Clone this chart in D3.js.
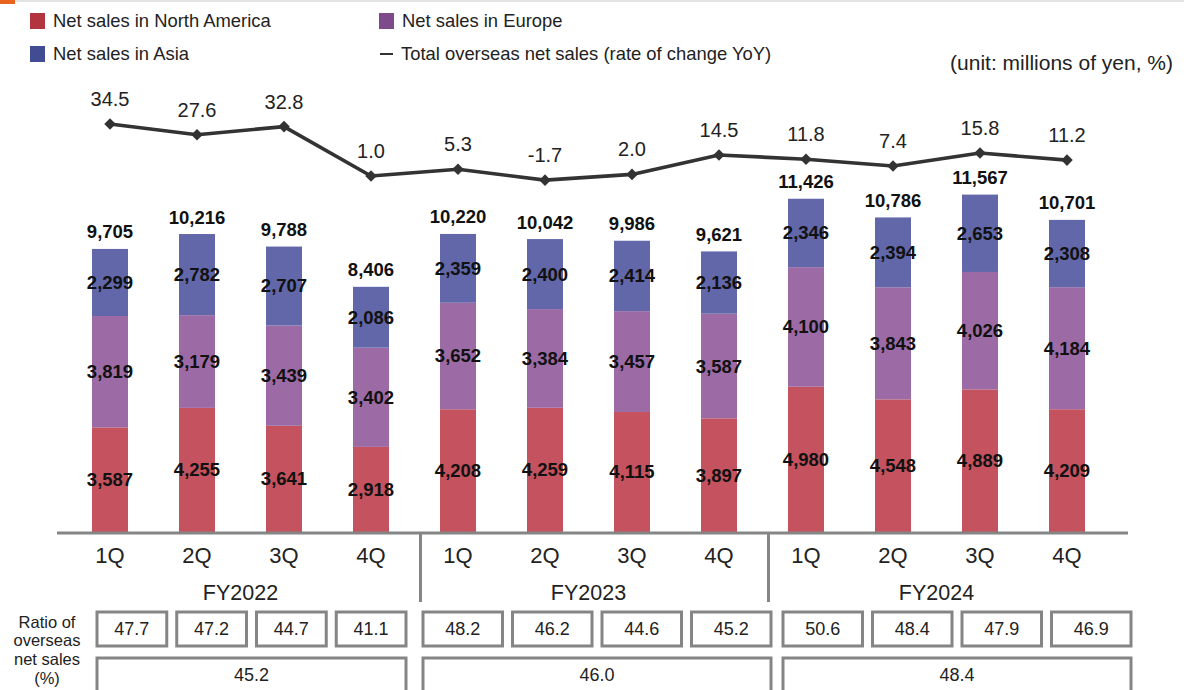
<!DOCTYPE html>
<html>
<head>
<meta charset="utf-8">
<script src="https://cdn.jsdelivr.net/npm/d3@7"></script>
<style>
  html, body { margin: 0; padding: 0; background: #fff; }
  svg { display: block; font-family: "Liberation Sans", Arial, sans-serif; }
</style>
</head>
<body>
<svg id="chart" width="1184" height="690"></svg>
<script>
// Quarterly overseas net sales by region (millions of yen)
const fiscalYears = ["FY2022", "FY2023", "FY2024"];
const quarters = ["1Q", "2Q", "3Q", "4Q"];
const northAmerica = [3587, 4255, 3641, 2918, 4208, 4259, 4115, 3897, 4980, 4548, 4889, 4209];
const europe       = [3819, 3179, 3439, 3402, 3652, 3384, 3457, 3587, 4100, 3843, 4026, 4184];
const asia         = [2299, 2782, 2707, 2086, 2359, 2400, 2414, 2136, 2346, 2394, 2653, 2308];
const totals       = [9705, 10216, 9788, 8406, 10220, 10042, 9986, 9621, 11426, 10786, 11567, 10701];
// Total overseas net sales, rate of change YoY (%)
const yoyChange    = [34.5, 27.6, 32.8, 1.0, 5.3, -1.7, 2.0, 14.5, 11.8, 7.4, 15.8, 11.2];
// Ratio of overseas net sales (%)
const ratioQuarter = [47.7, 47.2, 44.7, 41.1, 48.2, 46.2, 44.6, 45.2, 50.6, 48.4, 47.9, 46.9];
const ratioYear    = [45.2, 46.0, 48.4];

const seriesNames  = ["Net sales in North America", "Net sales in Europe", "Net sales in Asia"];
const barColors    = ["#c4525f", "#9c6ba6", "#6167a9"];
const legendColors = ["#b2343f", "#7d4b8c", "#414c93"];
const lineColor    = "#333333";
const gridGrey     = "#858585";

const svg = d3.select("#chart");

const keys = d3.range(totals.length).map(i => fiscalYears[Math.floor(i / 4)] + "-" + quarters[i % 4]);

const x = d3.scalePoint().domain(keys).range([110, 1067]);
const barWidth = 36;
const baseY = 532;
const y = d3.scaleLinear().domain([0, 12000]).range([baseY, 182]);
const yLine = d3.scaleLinear().domain([0, 35]).range([177.5, 123.2]);

// top rule with accent
svg.append("rect").attr("x", 0).attr("y", 0).attr("width", 1184).attr("height", 2).attr("fill", "#e4e4e4");
svg.append("rect").attr("x", 0).attr("y", 0).attr("width", 15).attr("height", 4).attr("fill", "#e8641e");

// stacked bars
const rows = keys.map((k, i) => ({ key: k, na: northAmerica[i], eu: europe[i], as: asia[i] }));
const stack = d3.stack().keys(["na", "eu", "as"]);
const layers = stack(rows);

const layerG = svg.append("g").selectAll("g").data(layers).join("g")
  .attr("fill", (d, i) => barColors[i]);
layerG.selectAll("rect").data(d => d).join("rect")
  .attr("x", d => x(d.data.key) - barWidth / 2)
  .attr("y", d => y(d[1]))
  .attr("width", barWidth)
  .attr("height", d => y(d[0]) - y(d[1]));

// segment labels
const fmt = d3.format(",");
const labelG = svg.append("g")
  .attr("font-size", 18.5).attr("font-weight", "bold").attr("fill", "#111")
  .attr("text-anchor", "middle");
layers.forEach(layer => {
  layer.forEach(d => {
    labelG.append("text")
      .attr("x", x(d.data.key))
      .attr("y", (y(d[0]) + y(d[1])) / 2)
      .attr("dy", "0.35em")
      .text(fmt(d[1] - d[0]));
  });
});
// total labels
svg.append("g").attr("font-size", 18.5).attr("font-weight", "bold").attr("fill", "#111")
  .attr("text-anchor", "middle")
  .selectAll("text").data(totals).join("text")
  .attr("x", (d, i) => x(keys[i]))
  .attr("y", d => y(d) - 17)
  .attr("dy", "0.35em")
  .text(d => fmt(d));

// YoY line
const line = d3.line().x((d, i) => x(keys[i])).y(d => yLine(d));
svg.append("path").datum(yoyChange)
  .attr("d", line).attr("fill", "none")
  .attr("stroke", lineColor).attr("stroke-width", 3.6).attr("stroke-linejoin", "round");
svg.append("g").selectAll("path").data(yoyChange).join("path")
  .attr("d", d3.symbol(d3.symbolDiamond2, 85))
  .attr("transform", (d, i) => `translate(${x(keys[i])},${yLine(d)})`)
  .attr("fill", lineColor);
svg.append("g").attr("font-size", 20).attr("fill", "#222").attr("text-anchor", "middle")
  .selectAll("text").data(yoyChange).join("text")
  .attr("x", (d, i) => x(keys[i]))
  .attr("y", d => yLine(d) - 25)
  .attr("dy", "0.35em")
  .text(d => d.toFixed(1));

// category axis
svg.append("line").attr("x1", 57).attr("x2", 1128).attr("y1", baseY + 1).attr("y2", baseY + 1)
  .attr("stroke", gridGrey).attr("stroke-width", 3);
svg.append("g").attr("font-size", 22).attr("fill", "#222").attr("text-anchor", "middle")
  .selectAll("text").data(keys).join("text")
  .attr("x", d => x(d)).attr("y", 555).attr("dy", "0.35em")
  .text(d => d.split("-")[1]);
fiscalYears.forEach((fy, g) => {
  const cx = (x(keys[g * 4 + 1]) + x(keys[g * 4 + 2])) / 2;
  svg.append("text").attr("x", cx).attr("y", 592).attr("dy", "0.35em")
    .attr("text-anchor", "middle").attr("font-size", 21.5).attr("fill", "#222").text(fy);
});
// group separators
[3, 7].forEach(i => {
  const sx = (x(keys[i]) + x(keys[i + 1])) / 2 + 6;
  svg.append("line").attr("x1", sx).attr("x2", sx).attr("y1", 534).attr("y2", 602)
    .attr("stroke", gridGrey).attr("stroke-width", 3);
});

// legend
const legend = svg.append("g").attr("font-size", 18.4).attr("fill", "#222");
const legendItems = [
  { x: 30, y: 21, name: seriesNames[0], color: legendColors[0] },
  { x: 379, y: 21, name: seriesNames[1], color: legendColors[1] },
  { x: 30, y: 54, name: seriesNames[2], color: legendColors[2] }
];
legendItems.forEach(it => {
  legend.append("rect").attr("x", it.x).attr("y", it.y - 8).attr("width", 15).attr("height", 16).attr("fill", it.color);
  legend.append("text").attr("x", it.x + 23).attr("y", it.y).attr("dy", "0.35em").text(it.name);
});
legend.append("line").attr("x1", 380).attr("x2", 393).attr("y1", 54).attr("y2", 54)
  .attr("stroke", lineColor).attr("stroke-width", 2);
legend.append("text").attr("x", 401).attr("y", 54).attr("dy", "0.35em")
  .text("Total overseas net sales (rate of change YoY)");

svg.append("text").attr("x", 1173).attr("y", 63).attr("dy", "0.35em")
  .attr("text-anchor", "end").attr("font-size", 21).attr("fill", "#222")
  .text("(unit: millions of yen, %)");

// ratio table
const table = svg.append("g");
const rowLabel = ["Ratio of", "overseas", "net sales", "(%)"];
table.append("g").attr("font-size", 16.5).attr("fill", "#222").attr("text-anchor", "middle")
  .selectAll("text").data(rowLabel).join("text")
  .attr("x", 47).attr("y", (d, i) => 622 + i * 18.6).attr("dy", "0.35em").text(d => d);

const groupSpans = [[97, 406], [423, 771], [783, 1131]];
const gap = 10;
groupSpans.forEach((span, g) => {
  const w = (span[1] - span[0] - gap * 3) / 4;
  for (let q = 0; q < 4; q++) {
    const bx = span[0] + q * (w + gap);
    table.append("rect").attr("x", bx).attr("y", 612).attr("width", w).attr("height", 34)
      .attr("fill", "#fff").attr("stroke", gridGrey).attr("stroke-width", 3);
    table.append("text").attr("x", bx + w / 2).attr("y", 629).attr("dy", "0.35em")
      .attr("text-anchor", "middle").attr("font-size", 18).attr("fill", "#222")
      .text(ratioQuarter[g * 4 + q].toFixed(1));
  }
  table.append("rect").attr("x", span[0]).attr("y", 658).attr("width", span[1] - span[0]).attr("height", 50)
    .attr("fill", "#fff").attr("stroke", gridGrey).attr("stroke-width", 3);
  table.append("text").attr("x", (span[0] + span[1]) / 2).attr("y", 675).attr("dy", "0.35em")
    .attr("text-anchor", "middle").attr("font-size", 18).attr("fill", "#222")
    .text(ratioYear[g].toFixed(1));
});
</script>
</body>
</html>
